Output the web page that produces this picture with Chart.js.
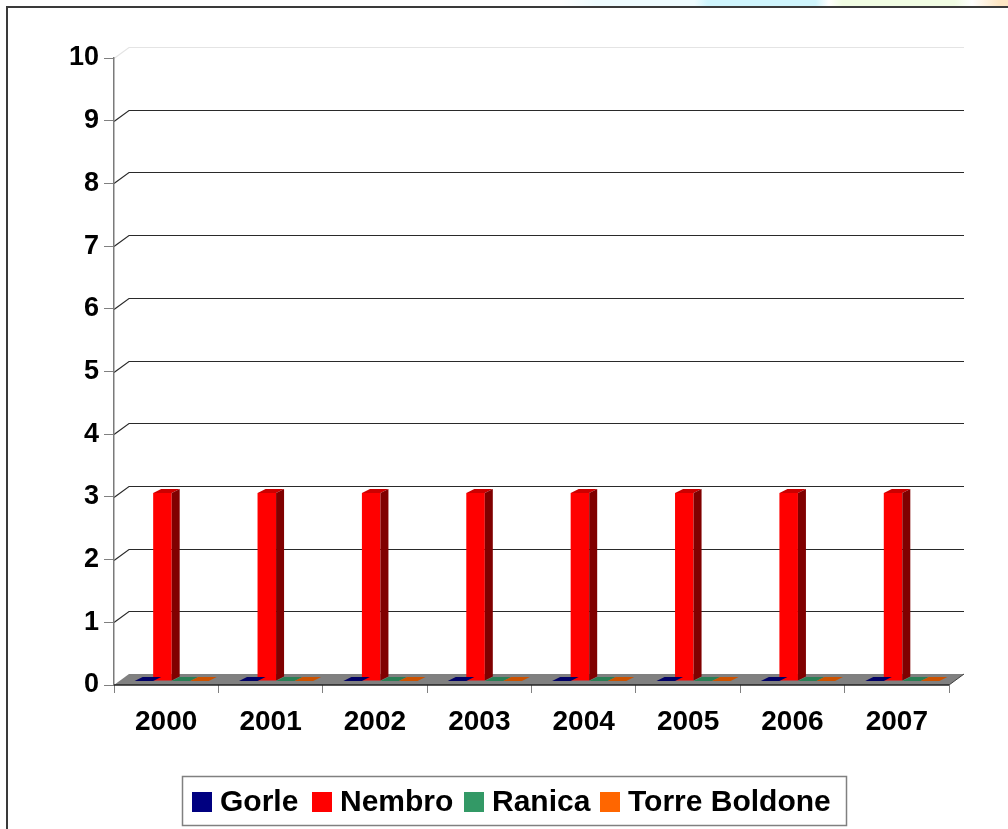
<!DOCTYPE html>
<html>
<head>
<meta charset="utf-8">
<script src="https://cdn.jsdelivr.net/npm/chart.js@4.4.0/dist/chart.umd.min.js"></script>
<style>
html,body{margin:0;padding:0;background:#fff;}
canvas{display:block;}
</style>
</head>
<body>
<canvas id="c" width="1008" height="829"></canvas>
<script>
const years = ['2000','2001','2002','2003','2004','2005','2006','2007'];
const gorle = [0,0,0,0,0,0,0,0];
const nembro = [3,3,3,3,3,3,3,3];
const ranica = [0,0,0,0,0,0,0,0];
const torreBoldone = [0,0,0,0,0,0,0,0];
const seriesNames = ['Gorle','Nembro','Ranica','Torre Boldone'];
const yMin = 0, yMax = 10, yStep = 1;

const FONT = '"Liberation Sans", Arial, sans-serif';
const front = ['#000080','#FF0000','#339966','#FF6600'];
const topC = ['#000066','#CC0000','#2A7F55','#CC5200'];
const sideC = ['#000050','#800000','#1F5F40','#994000'];

const DEPTH_X = 15, DEPTH_Y = -11;   // wall depth
const BAR_DX = 5.5, BAR_DY = -4;     // bar front-face offset
const BAR_DEPTH_X = 8, BAR_DEPTH_Y = -4;

const bg3d = {
  id: 'bg3d',
  beforeDraw(chart) {
    const ctx = chart.ctx;
    const a = chart.chartArea;
    const y = chart.scales.y;
    ctx.save();
    ctx.fillStyle = '#fff';
    ctx.fillRect(0, 0, chart.width, chart.height);
    // faint decoration band at the very top
    const g = ctx.createLinearGradient(560, 0, 1008, 0);
    g.addColorStop(0, 'rgba(255,255,255,1)');
    g.addColorStop(0.08, '#effcff');
    g.addColorStop(0.3, '#effcff');
    g.addColorStop(0.33, '#cff5fd');
    g.addColorStop(0.57, '#cff5fd');
    g.addColorStop(0.6, '#ffffff');
    g.addColorStop(0.63, '#f1fde3');
    g.addColorStop(0.88, '#f1fde3');
    g.addColorStop(0.92, '#ffffff');
    g.addColorStop(0.98, '#fde6c4');
    g.addColorStop(1, '#fde6c4');
    ctx.fillStyle = g;
    ctx.fillRect(560, 0, 448, 7);
    // outer border
    ctx.strokeStyle = '#3a3a3a';
    ctx.lineWidth = 2;
    ctx.beginPath();
    ctx.moveTo(7, 829);
    ctx.lineTo(7, 7);
    ctx.lineTo(1008, 7);
    ctx.stroke();
    // gridlines on side and back walls
    for (let v = yMin + yStep; v <= yMax; v += yStep) {
      const py = Math.round(y.getPixelForValue(v)) + 0.5;
      ctx.strokeStyle = v === yMax ? '#e4e4e4' : '#2a2a2a';
      ctx.lineWidth = 1.2;
      ctx.beginPath();
      ctx.moveTo(a.left, py);
      ctx.lineTo(a.left + DEPTH_X, py + DEPTH_Y);
      ctx.lineTo(a.right + DEPTH_X, py + DEPTH_Y);
      ctx.stroke();
    }
    // floor
    const p0 = y.getPixelForValue(0);
    ctx.fillStyle = '#808080';
    ctx.beginPath();
    ctx.moveTo(a.left, p0);
    ctx.lineTo(a.right, p0);
    ctx.lineTo(a.right + DEPTH_X, p0 + DEPTH_Y);
    ctx.lineTo(a.left + DEPTH_X, p0 + DEPTH_Y);
    ctx.closePath();
    ctx.fill();
    ctx.strokeStyle = '#404040';
    ctx.lineWidth = 1;
    ctx.beginPath();
    ctx.moveTo(a.right, p0);
    ctx.lineTo(a.right + DEPTH_X, p0 + DEPTH_Y);
    ctx.stroke();
    ctx.restore();
  },
  beforeDatasetsDraw(chart) {
    chart.ctx.save();
    chart.ctx.translate(BAR_DX, BAR_DY);
  },
  afterDatasetsDraw(chart) {
    const ctx = chart.ctx;
    chart.data.datasets.forEach((ds, di) => {
      const meta = chart.getDatasetMeta(di);
      meta.data.forEach(bar => {
        const x0 = bar.x - bar.width / 2, x1 = bar.x + bar.width / 2;
        const yt = Math.min(bar.y, bar.base), yb = Math.max(bar.y, bar.base);
        // top face
        ctx.fillStyle = topC[di];
        ctx.beginPath();
        ctx.moveTo(x0, yt);
        ctx.lineTo(x1, yt);
        ctx.lineTo(x1 + BAR_DEPTH_X, yt + BAR_DEPTH_Y);
        ctx.lineTo(x0 + BAR_DEPTH_X, yt + BAR_DEPTH_Y);
        ctx.closePath();
        ctx.fill();
        // side face
        if (yb - yt > 0.5) {
          ctx.fillStyle = sideC[di];
          ctx.beginPath();
          ctx.moveTo(x1, yt);
          ctx.lineTo(x1 + BAR_DEPTH_X, yt + BAR_DEPTH_Y);
          ctx.lineTo(x1 + BAR_DEPTH_X, yb + BAR_DEPTH_Y);
          ctx.lineTo(x1, yb);
          ctx.closePath();
          ctx.fill();
        }
      });
    });
    ctx.restore();
  },
  afterDraw(chart) {
    const ctx = chart.ctx;
    const a = chart.chartArea;
    const p0 = chart.scales.y.getPixelForValue(0);
    ctx.save();
    // front edge of floor
    ctx.strokeStyle = '#222';
    ctx.lineWidth = 1.5;
    ctx.beginPath();
    ctx.moveTo(a.left, p0);
    ctx.lineTo(a.right, p0);
    ctx.stroke();
    // legend
    ctx.strokeStyle = '#808080';
    ctx.lineWidth = 1.5;
    ctx.fillStyle = '#fff';
    ctx.fillRect(182, 776, 664, 49);
    ctx.strokeRect(182.5, 776.5, 664, 49);
    const sq = [192, 312, 464, 600];
    const tx = [220, 340, 492, 628];
    ctx.font = 'bold 30px ' + FONT;
    ctx.textBaseline = 'middle';
    ctx.textAlign = 'left';
    seriesNames.forEach((n, i) => {
      ctx.fillStyle = front[i];
      ctx.fillRect(sq[i], 792, 20, 20);
      ctx.fillStyle = '#000';
      ctx.fillText(n, tx[i], 803);
    });
    ctx.restore();
  }
};

const seriesData = [gorle, nembro, ranica, torreBoldone];

new Chart(document.getElementById('c'), {
  type: 'bar',
  data: {
    labels: years,
    datasets: seriesNames.map((n, i) => ({
      label: n,
      data: seriesData[i],
      backgroundColor: front[i],
      borderWidth: 0,
      barPercentage: 1.0,
      categoryPercentage: 0.71
    }))
  },
  options: {
    responsive: false,
    animation: false,
    devicePixelRatio: 1,
    layout: { padding: { left: 0, top: 58, right: 59, bottom: 64 } },
    plugins: { legend: { display: false }, tooltip: { enabled: false } },
    scales: {
      x: {
        offset: true,
        grid: { drawOnChartArea: false, drawTicks: true, tickLength: 8, color: '#808080', offset: true },
        border: { display: false },
        ticks: { color: '#000', padding: 12, font: { family: FONT, size: 28, weight: 'bold' } },
        afterFit(s) { s.height = 80; }
      },
      y: {
        min: yMin, max: yMax,
        grid: { drawOnChartArea: false, drawTicks: true, tickLength: 10, color: '#808080' },
        border: { display: true, color: '#7a7a7a', width: 1.5 },
        ticks: { stepSize: yStep, color: '#000', padding: 5, font: { family: FONT, size: 27, weight: 'bold' } },
        afterFit(s) { s.width = 114; }
      }
    }
  },
  plugins: [bg3d]
});
</script>
</body>
</html>
